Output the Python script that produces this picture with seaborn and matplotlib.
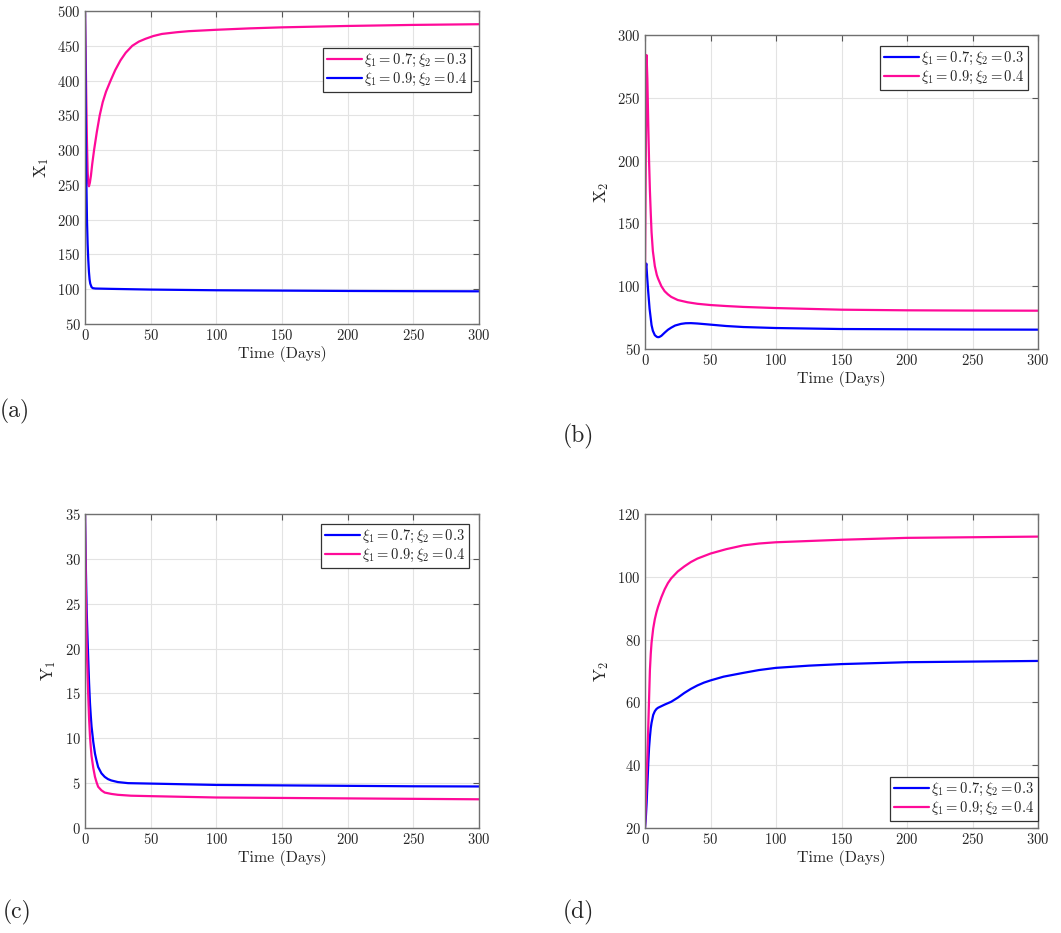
import pandas as pd
import matplotlib
matplotlib.use("Agg")
import matplotlib.pyplot as plt
import seaborn as sns

# values
PINK = "#FF0A99"
BLUE = "#0000FF"

lab_a = r"$\xi_1 = 0.7; \xi_2 = 0.3$"
lab_b = r"$\xi_1 = 0.9; \xi_2 = 0.4$"

# (a) X1
t_a_pink = [0, 0.5, 1, 1.5, 2, 2.5, 3, 3.7, 4.5, 5.5, 6.9, 9, 11.2, 13.5, 16, 19.5, 23, 27, 31, 36, 41,
            46, 52, 58.5, 70, 79, 100, 125, 150, 200, 250, 300]
x1_pink = [500, 440, 370, 310, 270, 252, 248, 253, 263, 280, 300, 326, 350, 369, 384, 400, 415, 429, 440, 450, 456,
           460, 464, 467, 469.5, 471, 473, 475, 476.5, 478.5, 480, 481]
t_a_blue = [0, 0.3, 0.6, 1, 1.5, 2, 2.5, 3, 3.5, 4, 5, 6, 8, 20, 50, 100, 150, 200, 250, 300]
x1_blue = [500, 420, 340, 260, 200, 165, 142, 125, 114, 108, 103, 101.5, 101, 100.5, 99.5, 98.5, 98, 97.5, 97.2, 97]

# (b) X2
t_b_pink = [0, 0.6, 1.2, 1.8, 2.5, 3.1, 3.75, 4.4, 5, 6, 7.5, 9, 10, 12.5, 15, 17.5, 20, 25, 32.5, 40, 50, 62,
            75, 100, 150, 200, 250, 300]
x2_pink = [110, 200, 284, 265, 228, 200, 176, 158, 143, 128, 116, 109, 106, 100, 96, 93.5, 91.5, 89, 87.2, 86, 85, 84.2,
           83.5, 82.6, 81.3, 80.8, 80.6, 80.5]
t_b_blue = [0, 1, 1.8, 2.5, 3.5, 5, 6, 7.5, 9, 10, 11, 12.5, 15, 17.5, 20, 23, 27.5, 31, 35, 40, 50, 62, 75,
            100, 150, 200, 250, 300]
x2_blue = [110, 118, 105, 95, 82, 69, 64.5, 61, 59.7, 59.4, 59.6, 60.5, 63, 65.3, 67, 68.7, 70, 70.5, 70.6, 70.3, 69.4,
           68.3, 67.5, 66.7, 65.9, 65.7, 65.5, 65.4]

# (c) Y1
t_c_blue = [0, 0.6, 1.26, 1.9, 2.5, 3.1, 3.8, 4.4, 5, 6.3, 7.6, 8.8, 10, 12.5, 15, 17.5, 20, 25, 32.8, 50, 100,
            150, 200, 250, 300]
y1_blue = [35, 29.5, 24.3, 21.3, 18.7, 16.2, 13.9, 12.5, 11.3, 9.6, 8.3, 7.5, 6.8, 6.1, 5.7, 5.45, 5.3, 5.12, 5.0, 4.95,
           4.8, 4.75, 4.7, 4.65, 4.63]
t_c_pink = [0, 0.6, 1.26, 1.9, 2.5, 3.1, 3.8, 4.4, 5, 6.3, 7.6, 8.8, 10, 12.5, 15, 20, 25, 35, 50, 100, 150,
            200, 250, 300]
y1_pink = [35, 27, 20.6, 17.3, 14.6, 12.2, 10.2, 9.0, 8.0, 6.7, 5.7, 5.1, 4.6, 4.2, 3.95, 3.8, 3.7, 3.6, 3.55, 3.4, 3.35,
           3.3, 3.25, 3.2]

# (d) Y2
t_d_pink = [0, 0.6, 1.25, 1.9, 2.5, 3.1, 3.75, 4.4, 5, 6.25, 7.5, 8.75, 10, 12.5, 15, 17.5, 20, 25, 30, 35, 40,
            50, 62, 75, 87, 100, 150, 200, 250, 300]
y2_pink = [20, 28, 36.3, 44, 52.3, 61, 70.3, 75.5, 79, 83.5, 86.5, 88.7, 90.5, 93.5, 96, 98, 99.5, 101.7, 103.3, 104.7,
           105.8, 107.4, 108.8, 110, 110.6, 111, 111.8, 112.4, 112.6, 112.8]
t_d_blue = [0, 0.6, 1.25, 1.9, 2.5, 3.1, 3.75, 4.4, 5, 6.25, 7.5, 8.75, 10, 12.5, 15, 20, 25, 30, 35, 40, 45, 50,
            60, 75, 87, 100, 125, 150, 200, 250, 300]
y2_blue = [20, 23, 28, 34.5, 40.6, 45.5, 49, 51.8, 53.5, 56, 57.2, 57.9, 58.3, 58.8, 59.3, 60.2, 61.5, 63, 64.3, 65.4,
           66.3, 67, 68.2, 69.4, 70.3, 71, 71.7, 72.2, 72.8, 73.0, 73.2]

sns.set_style("whitegrid")
plt.rcParams["font.family"] = ["cmr10", "DejaVu Serif"]
plt.rcParams["mathtext.fontset"] = "cm"
plt.rcParams["axes.formatter.use_mathtext"] = True

fig = plt.figure(figsize=(10.61, 9.33), dpi=100)

W, H = 1061, 933


def make_axes(left, top, right, bottom):
    return fig.add_axes([left / W, 1 - bottom / H, (right - left) / W, (bottom - top) / H])


panels = [
    # axes box, series, ylabel, ylim, yticks, legend placement
    dict(box=(85, 11, 479, 324),
         series=[(t_a_pink, x1_pink, PINK, lab_a), (t_a_blue, x1_blue, BLUE, lab_b)],
         ylabel=r"$\mathrm{X}_1$", ylim=(50, 500), yticks=range(50, 501, 50),
         loc="upper right", anchor=(0.980, 0.882)),
    dict(box=(645, 35, 1038, 349),
         series=[(t_b_blue, x2_blue, BLUE, lab_a), (t_b_pink, x2_pink, PINK, lab_b)],
         ylabel=r"$\mathrm{X}_2$", ylim=(50, 300), yticks=range(50, 301, 50),
         loc="upper right", anchor=(0.975, 0.965)),
    dict(box=(85, 514, 479, 828),
         series=[(t_c_blue, y1_blue, BLUE, lab_a), (t_c_pink, y1_pink, PINK, lab_b)],
         ylabel=r"$\mathrm{Y}_1$", ylim=(0, 35), yticks=range(0, 36, 5),
         loc="upper right", anchor=(0.975, 0.968)),
    dict(box=(645, 514, 1038, 828),
         series=[(t_d_blue, y2_blue, BLUE, lab_a), (t_d_pink, y2_pink, PINK, lab_b)],
         ylabel=r"$\mathrm{Y}_2$", ylim=(20, 120), yticks=range(20, 121, 20),
         loc="lower right", anchor=(1.0, 0.022)),
]

for p in panels:
    ax = make_axes(*p["box"])
    for t, v, col, lab in p["series"]:
        df = pd.DataFrame({"t": t, "v": v})
        sns.lineplot(data=df, x="t", y="v", ax=ax, color=col, linewidth=1.6,
                     label=lab, estimator=None, sort=False)
    ax.set_xlim(0, 300)
    ax.set_ylim(*p["ylim"])
    ax.set_xticks(range(0, 301, 50))
    ax.set_yticks(list(p["yticks"]))
    ax.set_xlabel("Time (Days)", fontsize=11.5, labelpad=2)
    ax.set_ylabel(p["ylabel"], fontsize=12.5, labelpad=5)
    ax.tick_params(direction="in", length=4, width=0.8, color="#555555",
                   labelsize=10.5, top=True, right=True, pad=3)
    ax.grid(True, color="#E3E3E3", linewidth=0.8)
    for s in ax.spines.values():
        s.set_color("#707070")
        s.set_linewidth(1.0)
    leg = ax.legend(loc=p["loc"], bbox_to_anchor=p["anchor"], fontsize=10.5,
                    frameon=True, fancybox=False, framealpha=1, edgecolor="#333333",
                    handlelength=2.4, handletextpad=0.15, borderpad=0.25,
                    labelspacing=0.15, borderaxespad=0)
    leg.get_frame().set_linewidth(0.9)

fig.text(0 / W, 1 - 411 / H, "(a)", fontsize=17, va="center", ha="left")
fig.text(563 / W, 1 - 436 / H, "(b)", fontsize=17, va="center", ha="left")
fig.text(3 / W, 1 - 912 / H, "(c)", fontsize=17, va="center", ha="left")
fig.text(563 / W, 1 - 912 / H, "(d)", fontsize=17, va="center", ha="left")

fig.savefig("out.png", dpi=100)
